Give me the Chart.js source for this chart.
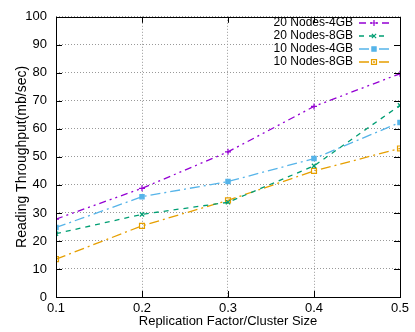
<!DOCTYPE html>
<html>
<head>
<meta charset="utf-8">
<script src="https://cdn.jsdelivr.net/npm/chart.js@4.4.0/dist/chart.umd.min.js"></script>
<style>
  html, body { margin: 0; padding: 0; background: #fff; }
  #wrap { width: 415px; height: 332px; }
</style>
</head>
<body>
<div id="wrap"><canvas id="chart" width="415" height="332"></canvas></div>
<script>
// -----------------------------
// DATA
// -----------------------------
const replication = [0.1, 0.2, 0.3, 0.4, 0.5];

const nodes20gb4 = [27.8, 38.8, 51.8, 68.0, 79.7];
const nodes20gb8 = [22.6, 29.5, 33.8, 46.8, 68.4];
const nodes10gb4 = [24.8, 35.8, 41.2, 49.4, 62.3];
const nodes10gb8 = [13.5, 25.4, 34.5, 45.0, 53.0];

const seriesNames = ["20 Nodes-4GB", "20 Nodes-8GB", "10 Nodes-4GB", "10 Nodes-8GB"];

const FONT = "'Liberation Sans', Arial, sans-serif";

function toPoints(values) {
    return replication.map((x, i) => ({ x: x, y: values[i] }));
}

function makeSet(label, values, color, dash, style, radius, filled) {
    return {
        label: label,
        data: toPoints(values),
        borderColor: color,
        backgroundColor: filled ? color : "rgba(0,0,0,0)",
        borderWidth: 1.3,
        borderDash: dash,
        pointStyle: style,
        pointRadius: radius,
        pointBorderWidth: 1.2,
        pointBorderColor: color,
        pointBackgroundColor: filled ? color : "rgba(0,0,0,0)",
        fill: false,
        tension: 0
    };
}

const datasets = [
    makeSet(seriesNames[0], nodes20gb4, "#9400d3", [7, 4, 2, 4, 2, 4], "cross", 3, false),
    makeSet(seriesNames[1], nodes20gb8, "#009e73", [5, 5], "crossRot", 3, false),
    makeSet(seriesNames[2], nodes10gb4, "#56b4e9", [10, 4, 2, 4], "rect", 3, true),
    makeSet(seriesNames[3], nodes10gb8, "#e69f00", [10, 4, 2, 4], "rect", 3.5, false)
];

// -----------------------------
// FRAME + LEGEND (gnuplot look)
// -----------------------------
const framePlugin = {
    id: "frame",
    beforeDatasetsDraw(chart) {
        // legend box hides the grid behind it
        const a = chart.chartArea;
        const ctx = chart.ctx;
        ctx.save();
        ctx.fillStyle = "#fff";
        ctx.fillRect(277, a.top + 1, a.right - 278, 54);
        ctx.restore();
    },
    afterDraw(chart) {
        const ctx = chart.ctx;
        const a = chart.chartArea;
        const xs = chart.scales.x;
        const ys = chart.scales.y;

        ctx.save();
        ctx.strokeStyle = "#000";
        ctx.lineWidth = 1;
        ctx.setLineDash([]);

        // inward tick marks
        ctx.beginPath();
        ys.ticks.forEach(t => {
            const y = Math.round(ys.getPixelForValue(t.value)) + 0.5;
            ctx.moveTo(a.left, y); ctx.lineTo(a.left + 6, y);
            ctx.moveTo(a.right, y); ctx.lineTo(a.right - 6, y);
        });
        xs.ticks.forEach(t => {
            const x = Math.round(xs.getPixelForValue(t.value)) + 0.5;
            ctx.moveTo(x, a.bottom); ctx.lineTo(x, a.bottom - 6);
            ctx.moveTo(x, a.top); ctx.lineTo(x, a.top + 6);
        });
        ctx.stroke();

        ctx.strokeRect(Math.round(a.left) + 0.5, Math.round(a.top) + 0.5,
            Math.round(a.right - a.left), Math.round(a.bottom - a.top));

        // legend
        ctx.font = "12px " + FONT;
        ctx.textAlign = "right";
        ctx.textBaseline = "middle";
        chart.data.datasets.forEach((ds, i) => {
            const y = 23 + i * 13;
            ctx.fillStyle = "#000";
            ctx.fillText(ds.label, 353, y);

            ctx.strokeStyle = ds.borderColor;
            ctx.lineWidth = ds.borderWidth;
            ctx.setLineDash(ds.borderDash);
            ctx.beginPath();
            ctx.moveTo(359, y);
            ctx.lineTo(389, y);
            ctx.stroke();
            ctx.setLineDash([]);

            ctx.fillStyle = ds.pointBackgroundColor;
            ctx.lineWidth = ds.pointBorderWidth;
            Chart.helpers.drawPoint(ctx, {
                pointStyle: ds.pointStyle,
                radius: ds.pointRadius,
                borderWidth: ds.pointBorderWidth,
                rotation: 0
            }, 374, y);
        });
        ctx.restore();
    }
};

// -----------------------------
// CHART
// -----------------------------
new Chart(document.getElementById("chart"), {
    type: "line",
    data: { datasets: datasets },
    options: {
        responsive: false,
        animation: false,
        layout: { padding: { left: 0, right: 15, top: 13, bottom: 0 } },
        plugins: {
            legend: { display: false },
            tooltip: { enabled: false }
        },
        scales: {
            x: {
                type: "linear",
                min: 0.1,
                max: 0.5,
                afterFit(scale) { scale.height = 35; },
                ticks: {
                    stepSize: 0.1,
                    color: "#000",
                    padding: 4,
                    font: { family: FONT, size: 13 },
                    callback: v => Number(v).toFixed(1)
                },
                grid: { color: "#999", lineWidth: 1, drawTicks: false },
                border: { display: false, dash: [1, 2] },
                title: {
                    display: true,
                    text: "Replication Factor/Cluster Size",
                    color: "#000",
                    font: { family: FONT, size: 13 },
                    padding: { top: 0, bottom: 3 }
                }
            },
            y: {
                min: 0,
                max: 100,
                afterFit(scale) { scale.width = 56; },
                ticks: {
                    stepSize: 10,
                    color: "#000",
                    padding: 9,
                    font: { family: FONT, size: 13 }
                },
                grid: { color: "#999", lineWidth: 1, drawTicks: false },
                border: { display: false, dash: [1, 2] },
                title: {
                    display: true,
                    text: "Reading Throughput(mb/sec)",
                    color: "#000",
                    font: { family: FONT, size: 14 },
                    padding: { top: 14, bottom: 0 }
                }
            }
        }
    },
    plugins: [framePlugin]
});
</script>
</body>
</html>
